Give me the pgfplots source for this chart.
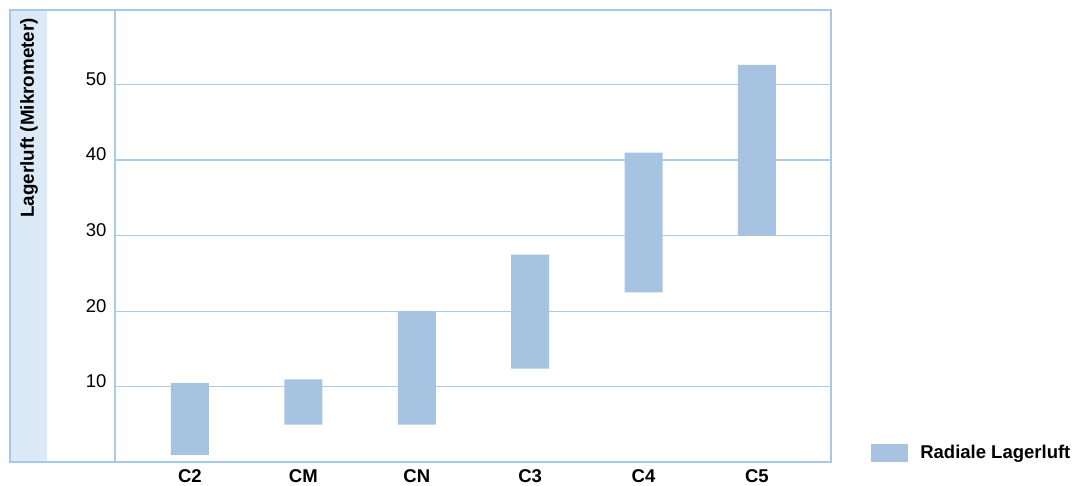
\documentclass[border=0pt]{standalone}
\usepackage{pgfplots}
\usepackage{pgfplotstable}
\pgfplotsset{compat=1.18}
\usepackage{fontspec}
\setmainfont{Liberation Sans}
\definecolor{barcol}{RGB}{166,196,225}
\definecolor{framecol}{RGB}{168,200,231}
\definecolor{gridcol}{RGB}{172,201,232}
\definecolor{stripcol}{RGB}{220,234,247}
\pgfplotstableread{
cat low high
0 1.0 10.5
1 5.0 11.0
2 5.0 20.0
3 12.4 27.5
4 22.5 41.0
5 30.0 52.6
}\datatab
\begin{document}
\begin{tikzpicture}
\path[use as bounding box] (0,0) rectangle (1072bp,486bp);
\fill[stripcol] (10bp,24bp) rectangle (47bp,476bp);
\begin{axis}[
  scale only axis,
  width=716bp, height=452.5bp,
  at={(115bp,23.5bp)}, anchor=south west,
  xmin=-0.661, xmax=5.653,
  ymin=0, ymax=59.85,
  ybar stacked, bar width=38bp,
  axis line style={draw=none},
  major tick length=0pt,
  xtick=data,
  xticklabels={C2,CM,CN,C3,C4,C5},
  ytick={10,20,30,40,50},
  ymajorgrids,
  grid style={color=gridcol, line width=1.2bp},
  /pgf/number format/assume math mode=true,
  ticklabel style={font=\fontsize{18.5bp}{22bp}\selectfont},
  xticklabel style={font=\fontsize{18.5bp}{22bp}\selectfont\bfseries, yshift=-3.5bp},
  yticklabel style={xshift=-5bp, yshift=5.5bp},
  legend style={draw=none, fill=none, at={(1.056,0.021)}, anchor=west,
    inner sep=0pt, font=\fontsize{18.5bp}{22bp}\selectfont\bfseries,
    nodes={inner xsep=0pt}},
  legend image code/.code={\fill[barcol] (0bp,-9bp) rectangle (37bp,9bp);},
]
\addplot[draw=none, fill=none, forget plot] table[x=cat, y=low] {\datatab};
\addplot[draw=none, fill=barcol] table[x=cat, y expr=\thisrow{high}-\thisrow{low}] {\datatab};
\addlegendentry{\hspace{12bp}Radiale Lagerluft}
\end{axis}
\draw[gridcol, line width=1.2bp] (115bp,24bp) -- (115bp,476bp);
\draw[framecol, line width=2.8bp] (10bp,24bp) rectangle (831bp,476bp);
\node[rotate=90, anchor=east, inner sep=0pt, font=\fontsize{18.8bp}{22bp}\selectfont\bfseries] at (29bp,468bp) {Lagerluft (Mikrometer)};
\end{tikzpicture}
\end{document}
